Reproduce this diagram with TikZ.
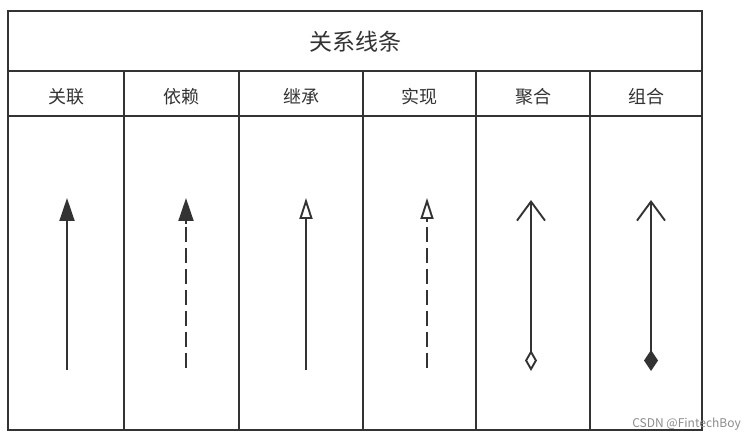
\documentclass[tikz,border=0pt]{standalone}
\usepackage{fontspec}
\setmainfont{Noto Sans CJK SC}
\usetikzlibrary{arrows.meta}
\definecolor{ink}{HTML}{333333}
\begin{document}
\begin{tikzpicture}[x=1pt,y=-1pt,
  grid/.style={draw=ink,line width=2pt},
  lbl/.style={text=ink,font=\fontsize{18}{20}\selectfont,inner sep=0pt},
  ttl/.style={text=ink,font=\fontsize{23}{26}\selectfont,inner sep=0pt},
  rel/.style={draw=ink,line width=1.9pt},
  dsh/.style={rel,dash pattern=on 15pt off 6pt},
  wm/.style={text=black!45,font=\fontsize{12}{14}\selectfont,inner sep=0pt}]
\useasboundingbox (0,0) rectangle (750,438);
\fill[white] (0,0) rectangle (750,438);
% table
\draw[grid] (8,11) rectangle (702,430);
\draw[grid] (8,71) -- (702,71);
\draw[grid] (8,116) -- (702,116);
\foreach \x in {124,239,363,476,590} \draw[grid] (\x,71) -- (\x,430);
% texts
\node[ttl] (title) at (355,42) {关系线条};
\node[lbl] (h1) at (66,97) {关联};
\node[lbl] (h2) at (181.5,97) {依赖};
\node[lbl] (h3) at (301,97) {继承};
\node[lbl] (h4) at (419.5,97) {实现};
\node[lbl] (h5) at (533,97) {聚合};
\node[lbl] (h6) at (646,97) {组合};
% endpoints
\coordinate (a1) at (67,370);  \coordinate (b1) at (67,198);
\coordinate (a2) at (186,370); \coordinate (b2) at (186,198);
\coordinate (a3) at (306,370); \coordinate (b3) at (306,198);
\coordinate (a4) at (427,370); \coordinate (b4) at (427,198);
\coordinate (a5) at (531,371); \coordinate (b5) at (531,200);
\coordinate (a6) at (651,371); \coordinate (b6) at (651,200);
% relations
\draw[rel,-{Triangle[length=23pt,width=15pt]}] (a1) -- (b1);
\draw[rel,-{Triangle[length=23pt,width=15pt]}] (a2) -- (b2);
\draw[rel,-{Triangle[open,length=21pt,width=13pt,fill=white]}] (a3) -- (b3);
\draw[rel,-{Triangle[open,length=21pt,width=13pt,fill=white]}] (a4) -- (b4);
\draw[rel,{Diamond[open,length=21pt,width=12pt,fill=white]}-{Straight Barb[length=19pt,width=28pt,line width=1.9pt]}] (a5) -- (b5);
\draw[rel,{Diamond[length=21pt,width=14pt]}-{Straight Barb[length=19pt,width=28pt,line width=1.9pt]}] (a6) -- (b6);
% dashed overlays
\fill[white] (182,224) rectangle (190,371);
\fill[white] (423,222) rectangle (431,371);
\draw[dsh] (186,227) -- (186,370);
\draw[dsh] (427,227) -- (427,370);
\node[wm,anchor=east] (wmk) at (741,424) {CSDN @FintechBoy};
\end{tikzpicture}
\end{document}
